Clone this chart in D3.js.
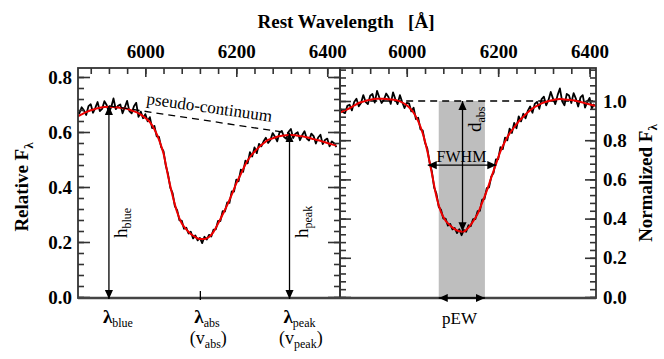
<!DOCTYPE html>
<html><head><meta charset="utf-8">
<script src="https://cdn.jsdelivr.net/npm/d3@7"></script>
<style>
body{margin:0;background:#fff}
svg{display:block;background:#fff}
text{font-family:"Liberation Serif","Times New Roman",serif;fill:#000}
</style>
</head><body>
<svg id="chart" width="664" height="359"></svg>
<script>
// ---------------- DATA ----------------
// Left panel: observed spectrum (relative flux), 5 A sampling
const leftWave = d3.range(5850, 6421, 5);
const leftFlux = [
0.672,0.668,0.690,0.679,0.662,0.694,0.701,0.670,0.688,0.709,
0.676,0.684,0.712,0.698,0.671,0.690,0.722,0.683,0.695,0.700,
0.668,0.690,0.713,0.676,0.668,0.694,0.706,0.655,0.674,0.650,
0.665,0.639,0.654,0.614,0.622,0.584,0.582,0.544,0.530,0.478,
0.446,0.397,0.378,0.330,0.316,0.279,0.278,0.248,0.252,0.231,
0.237,0.213,0.224,0.206,0.215,0.196,0.219,0.209,0.226,0.220,
0.245,0.246,0.277,0.276,0.312,0.311,0.344,0.342,0.384,0.383,
0.427,0.421,0.463,0.455,0.496,0.486,0.527,0.511,0.544,0.523,
0.557,0.548,0.566,0.579,0.560,0.571,0.596,0.583,0.566,0.598,
0.604,0.582,0.575,0.601,0.611,0.578,0.594,0.599,0.570,0.589,
0.603,0.576,0.569,0.594,0.585,0.558,0.580,0.590,0.556,0.571,
0.576,0.548,0.566,0.559,0.545];
// Left panel: smooth fit (red), 10 A sampling
const leftModelWave = d3.range(5850, 6421, 10);
const leftModelFlux = [
0.656,0.664,0.672,0.679,0.684,0.688,0.691,0.692,0.691,0.689,
0.687,0.684,0.678,0.672,0.663,0.651,0.636,0.610,0.572,0.522,
0.440,0.368,0.308,0.268,0.246,0.229,0.218,0.211,0.211,0.218,
0.237,0.267,0.300,0.334,0.372,0.413,0.447,0.482,0.509,0.528,
0.545,0.559,0.571,0.577,0.583,0.586,0.588,0.589,0.588,0.585,
0.583,0.579,0.574,0.570,0.565,0.560,0.555,0.551];
// Right panel: normalized spectrum, 5 A sampling
const rightWave = d3.range(5855, 6411, 5);
const rightFlux = [
0.960,0.944,0.938,0.975,0.981,0.952,0.995,1.012,0.973,0.990,
1.030,0.996,0.984,1.027,1.036,0.992,1.052,1.018,0.990,1.006,
1.038,1.020,0.985,1.044,1.010,0.984,1.030,0.995,0.964,0.990,
0.988,0.947,0.966,0.908,0.915,0.856,0.849,0.787,0.757,0.686,
0.640,0.558,0.526,0.460,0.445,0.400,0.400,0.364,0.373,0.345,
0.352,0.326,0.346,0.315,0.342,0.333,0.366,0.361,0.397,0.397,
0.438,0.440,0.497,0.500,0.555,0.559,0.615,0.634,0.702,0.703,
0.765,0.754,0.813,0.799,0.859,0.837,0.888,0.861,0.922,0.896,
0.935,0.912,0.951,0.972,0.940,0.985,0.996,0.960,1.010,1.022,
0.978,1.004,1.046,1.012,0.984,1.030,1.064,0.998,0.978,1.036,
1.028,0.990,1.040,1.012,0.972,1.018,1.030,0.966,0.995,1.016,
0.962,0.985];
// Right panel: smooth fit (red), 10 A sampling
const rightModelWave = d3.range(5855, 6416, 10);
const rightModelFlux = [
0.942,0.953,0.963,0.977,0.990,0.997,1.004,1.009,1.011,1.011,
1.010,1.008,1.005,0.998,0.986,0.968,0.940,0.897,0.835,0.745,
0.630,0.512,0.433,0.390,0.365,0.346,0.336,0.334,0.354,0.385,
0.424,0.481,0.541,0.610,0.677,0.743,0.793,0.835,0.866,0.896,
0.920,0.942,0.962,0.975,0.988,0.996,1.003,1.008,1.010,1.008,
1.006,1.004,0.998,0.992,0.986,0.980,0.974];

// Feature positions
const lamBlue = 5920, lamAbs = 6121, lamPeak = 6317;
const contBlue = 0.695, contPeak = 0.596;
const pewRange = [6070, 6171];
const fwhmRange = [6046, 6196];
const fwhmLevel = 0.673;
const dAbsWave = 6122, dAbsMin = 0.335, contNorm = 1.0;

// Tick values
const xMajor = [6000, 6200, 6400];
const xMinor = d3.range(5880, 6440, 40);
const yLeftMajor = [0, 0.2, 0.4, 0.6, 0.8];
const yLeftMinor = d3.range(0, 0.83, 0.04);
const yRightMajor = [0, 0.2, 0.4, 0.6, 0.8, 1.0];
const yRightMinor = d3.range(0, 1.17, 0.04);

// ---------------- LAYOUT ----------------
const yTop = 68, yBot = 298;
const L = {x0: 78, x1: 340}, R = {x0: 340, x1: 596};
const xL = d3.scaleLinear().domain([5852, 6428]).range([L.x0, L.x1]);
const yL = d3.scaleLinear().domain([0, 0.8]).range([297, 77]);
const xR = d3.scaleLinear().domain([5854, 6414]).range([R.x0, R.x1]);
const yR = d3.scaleLinear().domain([0, 1]).range([297, 101]);

const svg = d3.select("#chart");
const axisCol = "#333";

const defs = svg.append("defs");
defs.append("marker").attr("id","ah")
  .attr("viewBox","0 0 10 10").attr("refX",10).attr("refY",5)
  .attr("markerWidth",9).attr("markerHeight",9)
  .attr("markerUnits","userSpaceOnUse")
  .attr("orient","auto-start-reverse")
  .append("path").attr("d","M0,0.5 L10,5 L0,9.5 Z").attr("fill","#000");
defs.append("clipPath").attr("id","clipL").append("rect")
  .attr("x",L.x0).attr("y",yTop).attr("width",L.x1-L.x0).attr("height",yBot-yTop);
defs.append("clipPath").attr("id","clipR").append("rect")
  .attr("x",R.x0).attr("y",yTop).attr("width",R.x1-R.x0).attr("height",yBot-yTop);

// ---------------- RIGHT PANEL CONTENT ----------------
const gR = svg.append("g").attr("clip-path","url(#clipR)");
gR.append("rect")
  .attr("x", xR(pewRange[0])).attr("width", xR(pewRange[1]) - xR(pewRange[0]))
  .attr("y", yR(contNorm)).attr("height", yBot - yR(contNorm))
  .attr("fill", "#bebebe");
gR.append("line")
  .attr("x1", xR(lamBlue)).attr("x2", xR(6414))
  .attr("y1", yR(contNorm)).attr("y2", yR(contNorm))
  .attr("stroke","#000").attr("stroke-width",1.3).attr("stroke-dasharray","7,5");
const lineR = d3.line().x((d,i)=>xR(rightWave[i])).y(d=>yR(d));
gR.append("path").datum(rightFlux).attr("d", lineR)
  .attr("fill","none").attr("stroke","#000").attr("stroke-width",1.8).attr("stroke-linejoin","round");
const lineRM = d3.line().x((d,i)=>xR(rightModelWave[i])).y(d=>yR(d)).curve(d3.curveMonotoneX);
gR.append("path").datum(rightModelFlux).attr("d", lineRM)
  .attr("fill","none").attr("stroke","#ee0000").attr("stroke-width",2);

// ---------------- LEFT PANEL CONTENT ----------------
const gL = svg.append("g").attr("clip-path","url(#clipL)");
const lineL = d3.line().x((d,i)=>xL(leftWave[i])).y(d=>yL(d));
gL.append("path").datum(leftFlux).attr("d", lineL)
  .attr("fill","none").attr("stroke","#000").attr("stroke-width",1.8).attr("stroke-linejoin","round");
const lineLM = d3.line().x((d,i)=>xL(leftModelWave[i])).y(d=>yL(d)).curve(d3.curveMonotoneX);
gL.append("path").datum(leftModelFlux).attr("d", lineLM)
  .attr("fill","none").attr("stroke","#ee0000").attr("stroke-width",2);
gL.append("line")
  .attr("x1", xL(lamBlue)).attr("y1", yL(contBlue))
  .attr("x2", xL(lamPeak)).attr("y2", yL(contPeak))
  .attr("stroke","#000").attr("stroke-width",1.3).attr("stroke-dasharray","7,5");

// ---------------- AXES ----------------
function styleAxis(g){
  g.select(".domain").remove();
  g.selectAll(".tick line").attr("stroke",axisCol).attr("stroke-width",1.6);
  g.selectAll(".tick text").attr("font-family","'Liberation Serif',serif")
    .attr("font-weight","bold").attr("font-size",19).attr("fill","#000");
}
const fmt = d3.format(".1f");
[xL, xR].forEach((xs)=>{
  svg.append("g").attr("transform",`translate(0,${yTop})`)
    .call(d3.axisTop(xs).tickValues(xMinor.filter(v=>v>=xs.domain()[0]&&v<=xs.domain()[1])).tickSize(-6).tickFormat(""))
    .call(styleAxis);
  svg.append("g").attr("transform",`translate(0,${yTop})`)
    .call(d3.axisTop(xs).tickValues(xMajor).tickSize(-9).tickPadding(10).tickFormat(d3.format("d")))
    .call(styleAxis);
});
// left panel: left axis (labels) and right side (ticks only)
svg.append("g").attr("transform",`translate(${L.x0},0)`)
  .call(d3.axisLeft(yL).tickValues(yLeftMinor).tickSize(-6).tickFormat("")).call(styleAxis);
svg.append("g").attr("transform",`translate(${L.x0},0)`)
  .call(d3.axisLeft(yL).tickValues(yLeftMajor).tickSize(-12).tickPadding(6).tickFormat(fmt)).call(styleAxis);
svg.append("g").attr("transform",`translate(${L.x1},0)`)
  .call(d3.axisRight(yL).tickValues(yLeftMinor).tickSize(-6).tickFormat("")).call(styleAxis);
svg.append("g").attr("transform",`translate(${L.x1},0)`)
  .call(d3.axisRight(yL).tickValues(yLeftMajor).tickSize(-12).tickFormat("")).call(styleAxis);
// right panel: right axis (labels) and left side (ticks only)
svg.append("g").attr("transform",`translate(${R.x1},0)`)
  .call(d3.axisRight(yR).tickValues(yRightMinor).tickSize(-6).tickFormat("")).call(styleAxis);
svg.append("g").attr("transform",`translate(${R.x1},0)`)
  .call(d3.axisRight(yR).tickValues(yRightMajor).tickSize(-11).tickPadding(7).tickFormat(fmt)).call(styleAxis);
svg.append("g").attr("transform",`translate(${R.x0},0)`)
  .call(d3.axisLeft(yR).tickValues(yRightMinor).tickSize(-6).tickFormat("")).call(styleAxis);
svg.append("g").attr("transform",`translate(${R.x0},0)`)
  .call(d3.axisLeft(yR).tickValues(yRightMajor).tickSize(-11).tickFormat("")).call(styleAxis);

// frames
[[L.x0,L.x1],[R.x0,R.x1]].forEach(([a,b])=>{
  svg.append("rect").attr("x",a).attr("y",yTop).attr("width",b-a).attr("height",yBot-yTop)
    .attr("fill","none").attr("stroke",axisCol).attr("stroke-width",1.8);
});
svg.append("line").attr("x1",L.x0).attr("x2",R.x1).attr("y1",yBot).attr("y2",yBot)
  .attr("stroke","#444").attr("stroke-width",2.4);

// ---------------- ANNOTATIONS ----------------
function arrow(x1,y1,x2,y2,both){
  const l = svg.append("line").attr("x1",x1).attr("y1",y1).attr("x2",x2).attr("y2",y2)
    .attr("stroke","#000").attr("stroke-width",1.3).attr("marker-end","url(#ah)");
  if(both) l.attr("marker-start","url(#ah)");
}
arrow(xL(lamBlue), yL(contBlue), xL(lamBlue), yBot+1, true);
arrow(xL(lamPeak), yL(contPeak), xL(lamPeak), yBot+1, true);
svg.append("line").attr("x1",xL(lamAbs)).attr("x2",xL(lamAbs)).attr("y1",yBot-7).attr("y2",yBot+2)
  .attr("stroke","#000").attr("stroke-width",1.3);
arrow(xR(dAbsWave), yR(dAbsMin), xR(dAbsWave), yR(contNorm), true);
arrow(xR(fwhmRange[0]), yR(fwhmLevel), xR(fwhmRange[1]), yR(fwhmLevel), true);
arrow(xR(pewRange[0]), yBot, xR(pewRange[1]), yBot, true);

function subText(parent, x, y, main, sub, size, subSize, extra, boldMain){
  const t = parent.append("text").attr("x",x).attr("y",y).attr("font-size",size);
  const m = t.append("tspan").text(main);
  if(boldMain) m.attr("font-weight","bold");
  t.append("tspan").attr("font-size",subSize).attr("dy",4).text(sub);
  if(extra){ t.append("tspan").attr("dy",-4).text(extra); }
  return t;
}
// bottom labels
subText(svg, xL(lamBlue)-6, 323, "λ", "blue", 19, 12, null, true);
subText(svg, xL(lamAbs)-6, 323, "λ", "abs", 19, 12, null, true);
subText(svg, xL(lamPeak)-6, 323, "λ", "peak", 19, 12, null, true);
subText(svg, xL(lamAbs)-10.5, 344, "(v", "abs", 18, 12, ")");
subText(svg, xL(lamPeak)-10.5, 344, "(v", "peak", 18, 12, ")");
svg.append("text").attr("x", xR(dAbsWave)-3).attr("y",324).attr("text-anchor","middle")
  .attr("font-size",17).text("pEW");

// rotated h labels
function rotSub(x, y, main, sub, size, subSize){
  const g = svg.append("g").attr("transform",`translate(${x},${y}) rotate(-90)`);
  subText(g, 0, 0, main, sub, size, subSize);
}
rotSub(xL(lamBlue)+18, 238, "h", "blue", 19, 12);
rotSub(xL(lamPeak)+18, 238, "h", "peak", 19, 12);
rotSub(xR(dAbsWave)+18, 132, "d", "abs", 19, 12);

svg.append("text").attr("x", xR(dAbsWave)-1).attr("y", 162).attr("text-anchor","middle")
  .attr("font-size",16).text("FWHM");

// pseudo-continuum label
const ang = Math.atan2(yL(contPeak)-yL(contBlue), xL(lamPeak)-xL(lamBlue))*180/Math.PI;
svg.append("text").attr("transform",`translate(146,104) rotate(${ang-0.5})`)
  .attr("font-size",17).text("pseudo-continuum");

// titles
svg.append("text").attr("x",346).attr("y",28).attr("text-anchor","middle")
  .attr("font-size",19).attr("font-weight","bold").attr("xml:space","preserve")
  .text("Rest Wavelength   [Å]");
const tl = svg.append("text").attr("transform","translate(28,187) rotate(-90)")
  .attr("text-anchor","middle").attr("font-size",19).attr("font-weight","bold");
tl.append("tspan").text("Relative F");
tl.append("tspan").attr("font-size",13).attr("dy",5).text("λ");
const tr = svg.append("text").attr("transform","translate(652,183) rotate(-90)")
  .attr("text-anchor","middle").attr("font-size",19).attr("font-weight","bold");
tr.append("tspan").text("Normalized F");
tr.append("tspan").attr("font-size",13).attr("dy",5).text("λ");
</script>
</body></html>
